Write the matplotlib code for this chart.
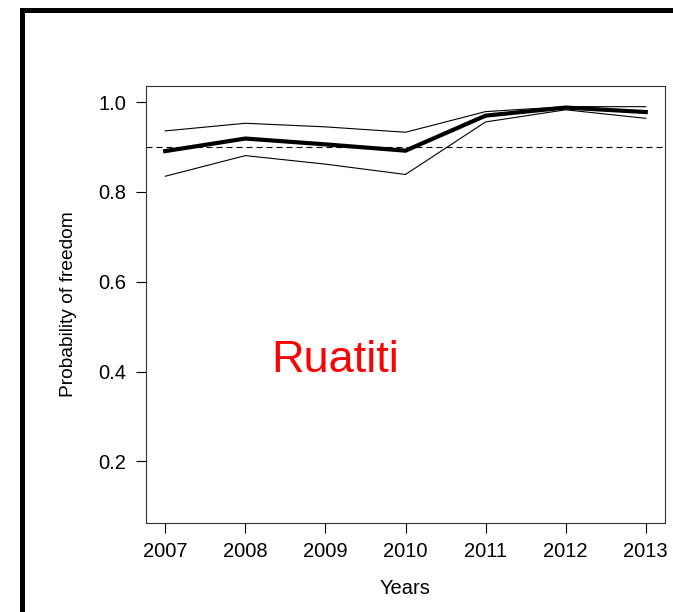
import matplotlib
matplotlib.use("Agg")
import matplotlib.pyplot as plt
from matplotlib.lines import Line2D

plt.rcParams['font.family'] = ['Liberation Sans', 'DejaVu Sans']

years = [2007, 2008, 2009, 2010, 2011, 2012, 2013]
mean_prob = [0.891, 0.919, 0.906, 0.892, 0.970, 0.988, 0.978]
upper_prob = [0.936, 0.953, 0.945, 0.933, 0.979, 0.990, 0.990]
lower_prob = [0.835, 0.881, 0.862, 0.839, 0.956, 0.983, 0.964]
target = 0.9
y_ticks = [0.2, 0.4, 0.6, 0.8, 1.0]

fig = plt.figure(figsize=(6.73, 6.12), dpi=100)
ax = fig.add_axes([146 / 673, 1 - 522.5 / 612, 519 / 673, 436.5 / 612])

ax.plot(years, upper_prob, color='black', lw=0.8)
ax.plot(years, lower_prob, color='black', lw=0.8)
ax.plot(years, mean_prob, color='black', lw=3.0, solid_joinstyle='miter')
ax.axhline(target, color='black', lw=0.8, ls=(0, (5.4, 3.6)))

# R style 4% padding
ax.set_xlim(2007 - 0.24, 2013 + 0.24)
ax.set_ylim(0.1 - 0.036, 1.0 + 0.036)
ax.set_xticks(years)
ax.set_yticks(y_ticks)
ax.set_yticklabels([f"{v:.1f}" for v in y_ticks])

ax.tick_params(direction='out', length=7, width=0.8, pad=7.2, labelsize=14.5,
               colors='black')
for s in ax.spines.values():
    s.set_linewidth(0.8)
    s.set_color('#333333')

ax.set_xlabel('Years', fontsize=14.5)
ax.set_ylabel('Probability of freedom', fontsize=13.8)
ax.xaxis.set_label_coords(0.5, -0.152)
ax.xaxis.label.set_va('center')
ax.yaxis.set_label_coords(-0.150, 0.5)
ax.yaxis.label.set_va('center')

ax.text(2009.12, 0.424, 'Ruatiti', color='red', fontsize=32.5,
        ha='center', va='center')

# outer frame
fig.add_artist(Line2D([21.5 / 673, 21.5 / 673, 1.0],
                      [0.0, 1 - 9.5 / 612, 1 - 9.5 / 612],
                      transform=fig.transFigure, color='black', lw=3.6,
                      solid_joinstyle='miter'))

fig.savefig('out.png', dpi=100)
